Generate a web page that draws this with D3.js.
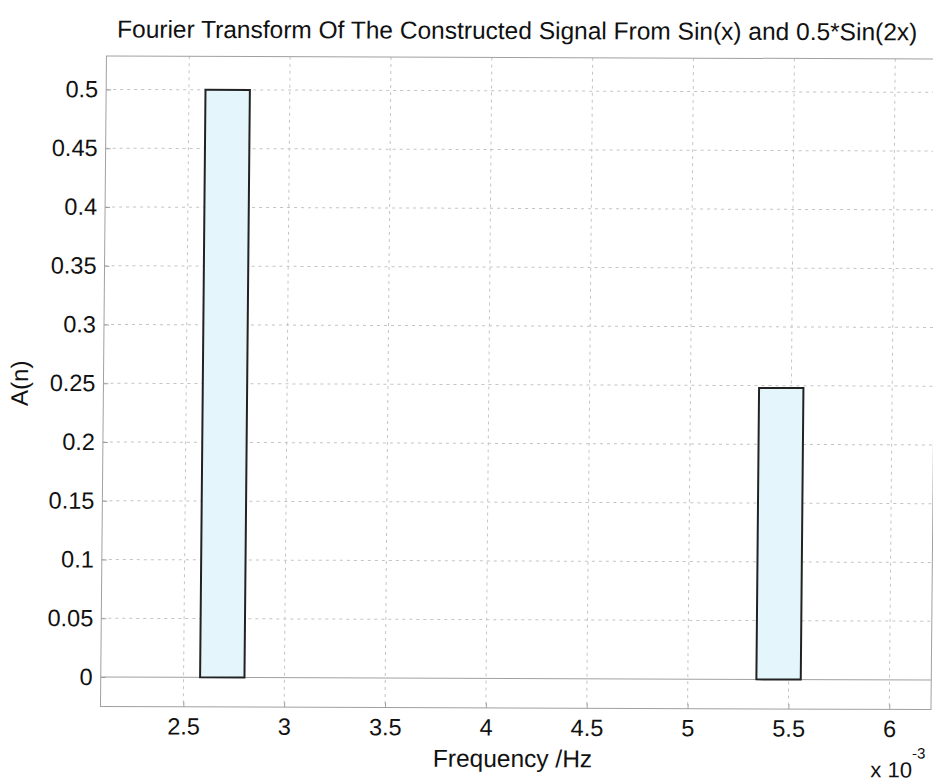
<!DOCTYPE html>
<html><head><meta charset="utf-8">
<script src="https://cdn.jsdelivr.net/npm/d3@7"></script>
<style>body{margin:0;background:#fff;overflow:hidden}svg{display:block}text{font-family:"Liberation Sans",Arial,sans-serif;fill:#111}</style>
</head><body><svg id="c" width="933" height="783"></svg>
<script>
const freqs = [2.692, 5.45];          // bar centers, x 10^-3 Hz
const amps = [0.5, 0.248];
const barWidth = 0.22;
const xTicks = [2.5, 3, 3.5, 4, 4.5, 5, 5.5, 6];
const yTicks = [0, 0.05, 0.1, 0.15, 0.2, 0.25, 0.3, 0.35, 0.4, 0.45, 0.5];
const xDomain = [2.0895, 6.207];
const yDomain = [-0.0251, 0.5284];
const title = "Fourier Transform Of The Constructed Signal From Sin(x) and 0.5*Sin(2x)";

const svg = d3.select("#c");
// slight skew, like the scanned reference
const root = svg.append("g").attr("transform", "matrix(1,0.0036,-0.0092,1,3.5,-1.86)");
const m = {l:103.5, r:934, t:57.5, b:708};
const x = d3.scaleLinear().domain(xDomain).range([m.l, m.r]);
const y = d3.scaleLinear().domain(yDomain).range([m.b, m.t]);

// grid
root.append("g").selectAll("line").data(xTicks).join("line")
  .attr("x1", d=>x(d)).attr("x2", d=>x(d)).attr("y1", m.t).attr("y2", m.b)
  .attr("stroke", "#c4c4c4").attr("stroke-width", 1).attr("stroke-dasharray", "3,4");
root.append("g").selectAll("line").data(yTicks.filter(d=>d!==0)).join("line")
  .attr("x1", m.l).attr("x2", m.r).attr("y1", d=>y(d)).attr("y2", d=>y(d))
  .attr("stroke", "#c4c4c4").attr("stroke-width", 1).attr("stroke-dasharray", "3,4");

// box
root.append("rect").attr("x", m.l).attr("y", m.t).attr("width", m.r-m.l).attr("height", m.b-m.t)
  .attr("fill", "none").attr("stroke", "#a0a0a0").attr("stroke-width", 1);

// baseline
root.append("line").attr("x1", m.l).attr("x2", m.r).attr("y1", y(0)).attr("y2", y(0))
  .attr("stroke", "#a0a0a0").attr("stroke-width", 1);

// axes
const xAxis = d3.axisBottom(x).tickValues(xTicks).tickFormat(d3.format("")).tickSize(-5).tickPadding(11);
const gx = root.append("g").attr("transform", `translate(0,${m.b})`).call(xAxis);
const yAxis = d3.axisLeft(y).tickValues(yTicks).tickFormat(d3.format("")).tickSize(-5).tickPadding(8);
const gy = root.append("g").attr("transform", `translate(${m.l},0)`).call(yAxis);
[gx, gy].forEach(g => {
  g.select(".domain").remove();
  g.selectAll(".tick line").attr("stroke", "#a0a0a0");
  g.selectAll(".tick text").attr("font-size", 23.5).attr("fill", "#111")
   .attr("font-family", "'Liberation Sans',Arial,sans-serif");
});

// bars
root.append("g").selectAll("rect").data(freqs).join("rect")
  .attr("x", d=>x(d - barWidth/2)).attr("width", d=>x(d + barWidth/2) - x(d - barWidth/2))
  .attr("y", (d,i)=>y(amps[i])).attr("height", (d,i)=>y(0) - y(amps[i]))
  .attr("fill", "#e4f6fb").attr("stroke", "#222").attr("stroke-width", 2);

// labels
root.append("text").attr("x", 514).attr("y", 39).attr("text-anchor", "middle")
  .attr("font-size", 24.5).text(title);
root.append("text").attr("transform", "translate(28,385) rotate(-90)").attr("text-anchor", "middle")
  .attr("font-size", 24).text("A(n)");
root.append("text").attr("x", 516).attr("y", 767).attr("text-anchor", "middle")
  .attr("font-size", 24.5).text("Frequency /Hz");
const ex = root.append("text").attr("x", 874).attr("y", 776).attr("font-size", 22);
ex.append("tspan").text("x 10");
ex.append("tspan").attr("dy", -19).attr("font-size", 15).text("-3");
</script></body></html>
